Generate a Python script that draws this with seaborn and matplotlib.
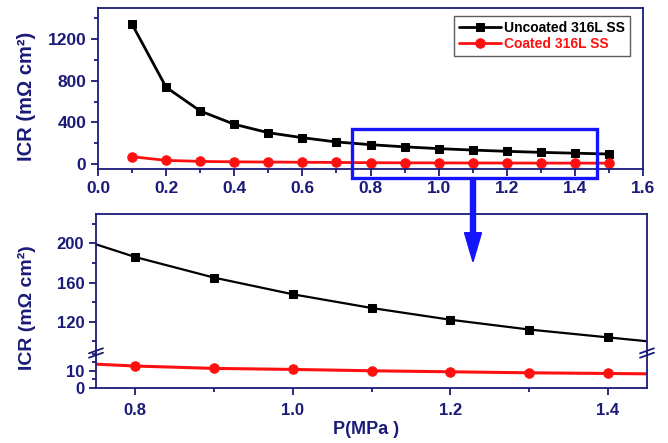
import matplotlib
matplotlib.use("Agg")
import matplotlib.pyplot as plt
import seaborn as sns
import pandas as pd
from matplotlib.patches import Rectangle, FancyArrow
from matplotlib.lines import Line2D
from matplotlib.transforms import IdentityTransform
from matplotlib.ticker import MultipleLocator

# ---- data ----
pressure = [0.1, 0.2, 0.3, 0.4, 0.5, 0.6, 0.7, 0.8, 0.9, 1.0, 1.1, 1.2, 1.3, 1.4, 1.5]
uncoated = [1344, 738, 510, 382, 301, 253, 212, 186, 165, 148, 134, 122, 112, 104, 96]
coated = [70, 35, 25, 21, 19, 17, 15, 12.8, 11.4, 10.8, 10.0, 9.4, 8.8, 8.4, 8.0]
series_names = ["Uncoated 316L SS", "Coated 316L SS"]
top_xticks = [0.0, 0.2, 0.4, 0.6, 0.8, 1.0, 1.2, 1.4, 1.6]
top_yticks = [0, 400, 800, 1200]
bot_xticks = [0.8, 1.0, 1.2, 1.4]
bot_upper_yticks = [120, 160, 200]
bot_lower_yticks = [0, 10]

df = pd.DataFrame({"P": pressure * 2,
                   "ICR": uncoated + coated,
                   "Sample": [series_names[0]] * len(pressure) + [series_names[1]] * len(pressure)})

sns.set_style("white")
plt.rcParams["font.family"] = ["Liberation Sans", "DejaVu Sans"]
plt.rcParams["font.weight"] = "bold"

NAVY = "#1a1a78"
BLUE = "#1414ff"
RED = "#ff1010"
W, H = 668, 443

fig = plt.figure(figsize=(6.68, 4.43), dpi=100)

def fx(px):
    return px / W

def fy(py):
    return 1 - py / H

ax_top = fig.add_axes([fx(98), fy(169), fx(643) - fx(98), fy(8) - fy(169)])
ax_bu = fig.add_axes([fx(96), fy(353), fx(647) - fx(96), fy(214) - fy(353)])
ax_bl = fig.add_axes([fx(96), fy(387.7), fx(647) - fx(96), fy(353) - fy(387.7)])

styles = {series_names[0]: dict(color="black", marker="s", ms=6.3),
          series_names[1]: dict(color=RED, marker="o", ms=6.8)}

# top panel
for name in series_names:
    sub = df[df.Sample == name]
    st = styles[name]
    sns.lineplot(data=sub, x="P", y="ICR", ax=ax_top, color=st["color"], marker=st["marker"],
                 markersize=st["ms"], markeredgecolor=st["color"], linewidth=2.0, label=name)

# bottom panels
for ax in (ax_bu, ax_bl):
    for name in series_names:
        sub = df[df.Sample == name]
        st = styles[name]
        lw = 1.6 if name == series_names[0] else 2.2
        sns.lineplot(data=sub, x="P", y="ICR", ax=ax, color=st["color"], marker=st["marker"],
                     markersize=st["ms"], markeredgecolor=st["color"], linewidth=lw, legend=False)

ax_top.set_xlim(0.0, 1.6)
ax_top.set_ylim(-48, 1500)
ax_top.set_xticks(top_xticks)
ax_top.set_yticks(top_yticks)
ax_top.xaxis.set_minor_locator(MultipleLocator(0.1))
ax_top.yaxis.set_minor_locator(MultipleLocator(200))
ax_top.set_xticklabels([f"{v:.1f}" for v in top_xticks])
ax_top.set_xlabel("")
ax_top.set_ylabel("")

ax_bu.set_xlim(0.75, 1.45)
ax_bl.set_xlim(0.75, 1.45)
ax_bu.set_ylim(88, 230)
ax_bl.set_ylim(0, 20.5)
ax_bu.set_yticks(bot_upper_yticks)
ax_bu.yaxis.set_minor_locator(MultipleLocator(20))
ax_bl.set_yticks(bot_lower_yticks)
ax_bl.yaxis.set_minor_locator(MultipleLocator(5))
ax_bl.set_xticks(bot_xticks)
ax_bl.xaxis.set_minor_locator(MultipleLocator(0.1))
ax_bl.set_xticklabels([f"{v:.1f}" for v in bot_xticks])
ax_bu.set_xticks([])
for ax in (ax_bu, ax_bl):
    ax.set_xlabel("")
    ax.set_ylabel("")

for ax in (ax_top, ax_bu, ax_bl):
    for sp in ax.spines.values():
        sp.set_color(NAVY)
        sp.set_linewidth(1.3)
    ax.tick_params(axis="both", which="both", direction="out", colors=NAVY,
                   left=True, bottom=True, top=False, right=False, width=1.3)
    ax.tick_params(which="major", length=5)
    ax.tick_params(which="minor", length=3)
ax_bu.tick_params(axis="x", which="both", bottom=False)
ax_bu.spines["bottom"].set_visible(False)
ax_bl.spines["top"].set_visible(False)
ax_bl.tick_params(axis="x", which="major", pad=6)

for lab in ax_top.get_xticklabels() + ax_top.get_yticklabels():
    lab.set_fontsize(12.5); lab.set_fontweight("bold"); lab.set_color(NAVY)
for ax in (ax_bu, ax_bl):
    for lab in ax.get_xticklabels() + ax.get_yticklabels():
        lab.set_fontsize(12); lab.set_fontweight("bold"); lab.set_color(NAVY)

# legend
leg = ax_top.legend(loc="upper right", bbox_to_anchor=(fx(630), fy(15.7)),
                    bbox_transform=fig.transFigure, fontsize=10, frameon=True, fancybox=False,
                    borderaxespad=0.0, handlelength=3.0, handletextpad=0.25,
                    borderpad=0.35, labelspacing=0.2)
leg.get_frame().set_edgecolor("#333333")
leg.get_frame().set_linewidth(1.0)
for t, name in zip(leg.get_texts(), series_names):
    t.set_color(styles[name]["color"])
    t.set_fontweight("bold")

# axis labels
fig.text(fx(27), fy(96), "ICR (mΩ cm²)", rotation=90, ha="center", va="center",
         fontsize=14.5, fontweight="bold", color=NAVY)
fig.text(fx(27), fy(308), "ICR (mΩ cm²)", rotation=90, ha="center", va="center",
         fontsize=14, fontweight="bold", color=NAVY)
fig.text(fx(366), fy(430), "P(MPa )", ha="center", va="center",
         fontsize=13, fontweight="bold", color=NAVY)

# zoom rectangle on top panel
rect = Rectangle((0.745, -132), 1.464 - 0.745, 334 + 132, fill=False,
                 edgecolor=BLUE, linewidth=2.4, clip_on=False, zorder=5)
ax_top.add_patch(rect)

# arrow (pixel coordinates)
arrow = FancyArrow(473, H - 177.7, 0, -(261.7 - 177.7), width=5, head_width=17,
                   head_length=29, length_includes_head=True, color=BLUE,
                   transform=IdentityTransform(), zorder=10)
fig.patches.append(arrow)

# axis break marks
for xs in (96, 647):
    for dy in (-2.2, 2.2):
        yb = H - 353 + dy
        fig.lines.append(Line2D([xs - 7, xs + 7], [yb - 2.5, yb + 2.5], color=NAVY,
                                linewidth=1.3, transform=IdentityTransform()))

fig.savefig("out.png", dpi=100)
